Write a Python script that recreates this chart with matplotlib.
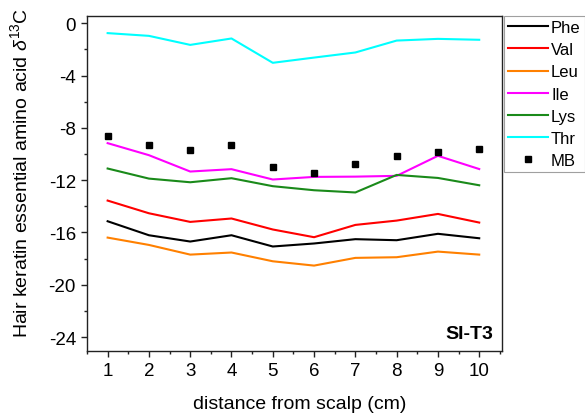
import matplotlib
matplotlib.use("Agg")
import matplotlib.pyplot as plt
from matplotlib.ticker import MultipleLocator

plt.rcParams['font.family'] = ['Liberation Sans', 'DejaVu Sans']
plt.rcParams['mathtext.fontset'] = 'custom'
plt.rcParams['mathtext.rm'] = 'Liberation Sans'
plt.rcParams['mathtext.it'] = 'Liberation Sans:italic'
plt.rcParams['axes.unicode_minus'] = False

distance = [1, 2, 3, 4, 5, 6, 7, 8, 9, 10]
phe = [-15.14, -16.21, -16.69, -16.21, -17.07, -16.84, -16.51, -16.59, -16.10, -16.44]
val = [-13.56, -14.53, -15.19, -14.93, -15.77, -16.36, -15.42, -15.09, -14.58, -15.24]
leu = [-16.39, -16.95, -17.69, -17.53, -18.20, -18.53, -17.94, -17.89, -17.46, -17.69]
ile = [-9.17, -10.09, -11.34, -11.16, -11.95, -11.75, -11.73, -11.67, -10.14, -11.15]
lys = [-11.11, -11.88, -12.16, -11.85, -12.46, -12.77, -12.94, -11.60, -11.83, -12.39]
thr = [-0.76, -0.97, -1.66, -1.17, -3.03, -2.63, -2.24, -1.33, -1.20, -1.27]
mb = [-8.61, -9.33, -9.66, -9.33, -11.03, -11.42, -10.75, -10.14, -9.86, -9.63]

series = [("Phe", phe, "#000000"), ("Val", val, "#ff0000"), ("Leu", leu, "#ff8000"),
          ("Ile", ile, "#ff00ff"), ("Lys", lys, "#1a8a1a"), ("Thr", thr, "#00ffff")]

fig = plt.figure(figsize=(5.85, 4.14), dpi=100)
ax = fig.add_axes([0.1487, 0.150, 0.858 - 0.1487, 0.959 - 0.150])

for name, vals, col in series:
    ax.plot(distance, vals, color=col, lw=1.5, label=name)
ax.plot(distance, mb, ls='none', marker='s', ms=5, color='black', label='MB')

ax.set_xlim(0.5, 10.55)
ax.set_ylim(-25.05, 0.55)
ax.xaxis.set_major_locator(MultipleLocator(1))
ax.xaxis.set_minor_locator(MultipleLocator(0.5))
ax.yaxis.set_major_locator(MultipleLocator(4))
ax.yaxis.set_minor_locator(MultipleLocator(2))
ax.tick_params(which='major', direction='out', length=4, width=1, labelsize=13.5,
               colors='#222222', pad=4)
ax.tick_params(which='minor', direction='out', length=2.5, width=1, colors='#222222')
ax.tick_params(labelcolor='black')
for s in ax.spines.values():
    s.set_color('#222222')
    s.set_linewidth(1)

ax.set_xlabel('distance from scalp (cm)', fontsize=14)
ax.set_ylabel(r'Hair keratin essential amino acid $\delta^{13}$C', fontsize=14)
ax.xaxis.set_label_coords(0.512, -0.132)
ax.yaxis.set_label_coords(-0.135, 0.534)
ax.text(0.978, 0.028, 'SI-T3', transform=ax.transAxes, ha='right', va='bottom',
        fontsize=14, fontweight='bold')

leg = ax.legend(loc='upper left', bbox_to_anchor=(1.004, 1.0), fontsize=12, frameon=True,
                fancybox=False, edgecolor='#888888', handlelength=2.4, handletextpad=0.2,
                borderpad=0.25, labelspacing=0.43, borderaxespad=0, markerscale=1)
leg.get_frame().set_linewidth(0.8)

fig.savefig('out.png', dpi=100)
